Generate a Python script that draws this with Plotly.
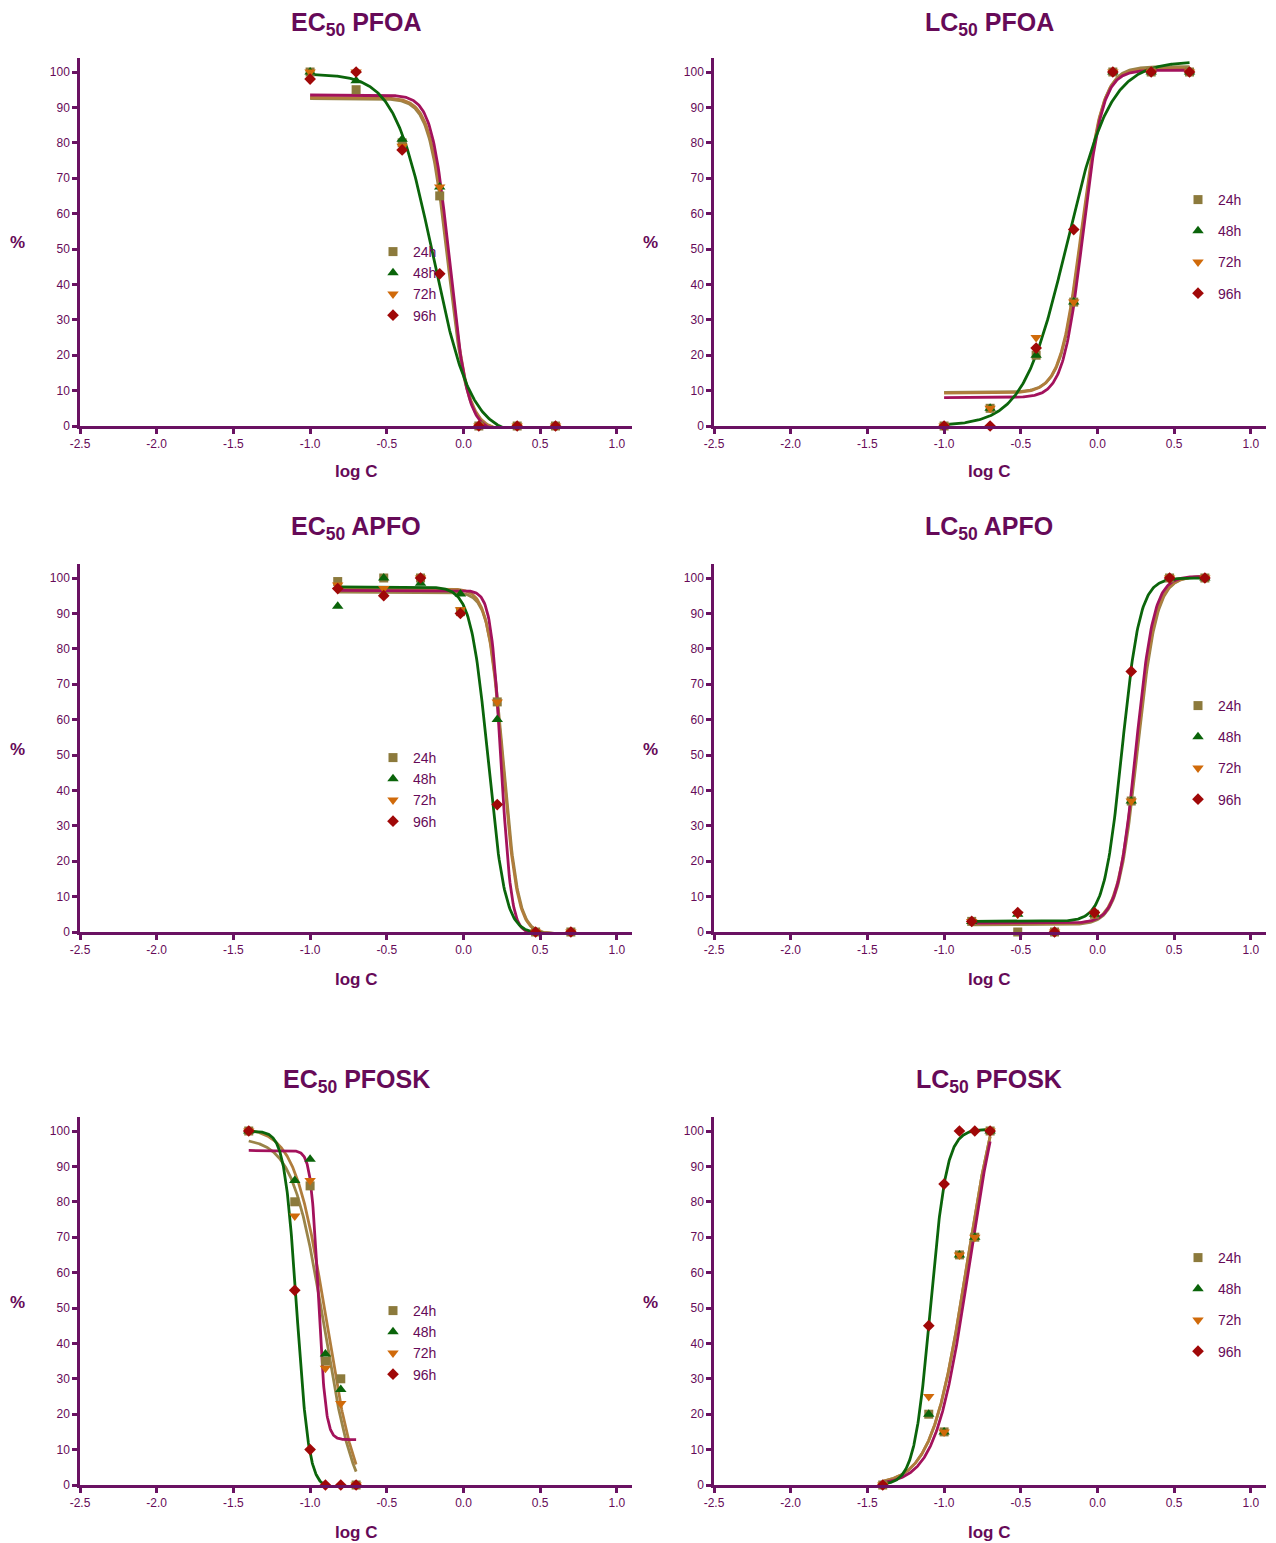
import numpy as np
import plotly.graph_objects as go

# ---------------- data ----------------
SERIES = ["24h", "48h", "72h", "96h"]
TITLES = ["EC<sub>50</sub> PFOA", "LC<sub>50</sub> PFOA",
          "EC<sub>50</sub> APFO", "LC<sub>50</sub> APFO",
          "EC<sub>50</sub> PFOSK", "LC<sub>50</sub> PFOSK"]
X_TICKS = [-2.5, -2.0, -1.5, -1.0, -0.5, 0.0, 0.5, 1.0]
X_TICK_TEXT = ["-2.5", "-2.0", "-1.5", "-1.0", "-0.5", "0.0", "0.5", "1.0"]
Y_TICKS = [0, 10, 20, 30, 40, 50, 60, 70, 80, 90, 100]

# EC50 PFOA
EC_PFOA_X = [-1.0, -0.7, -0.4, -0.155, 0.1, 0.35, 0.6]
EC_PFOA_24 = [100, 95, 80, 65, 0, 0, 0]
EC_PFOA_48 = [100, 97.5, 81, 67.5, 0, 0, 0]
EC_PFOA_72 = [100, 100, 79, 67.5, 0, 0, 0]
EC_PFOA_96 = [98, 100, 78, 43, 0, 0, 0]
EC_PFOA_TOP = [92.5, 99.5, 92.8, 93.5]
EC_PFOA_BOTTOM = [-1.2, -3.0, -1.2, -1.5]
EC_PFOA_LOGEC50 = [-0.10, -0.20, -0.095, -0.09]
EC_PFOA_HILL = [-7.0, -3.5, -7.0, -7.5]

# LC50 PFOA
LC_PFOA_X = [-1.0, -0.7, -0.4, -0.155, 0.1, 0.35, 0.6]
LC_PFOA_24 = [0, 5, 20, 35, 100, 100, 100]
LC_PFOA_48 = [0, 5, 20, 35, 100, 100, 100]
LC_PFOA_72 = [0, 5, 25, 35, 100, 100, 100]
LC_PFOA_96 = [0, 0, 22, 55.5, 100, 100, 100]
LC_PFOA_TOP = [101.5, 103.0, 101.0, 100.5]
LC_PFOA_BOTTOM = [9.5, 0.0, 9.3, 8.0]
LC_PFOA_LOGEC50 = [-0.10, -0.20, -0.105, -0.095]
LC_PFOA_HILL = [6.4, 3.08, 6.4, 6.8]

# EC50 APFO
EC_APFO_X = [-0.82, -0.52, -0.28, -0.02, 0.22, 0.47, 0.70]
EC_APFO_24 = [99, 100, 100, 90.5, 65, 0, 0]
EC_APFO_48 = [92, 100, 98.5, 95.5, 60, 0, 0]
EC_APFO_72 = [98, 97, 100, 91, 65, 0, 0]
EC_APFO_96 = [97, 95, 100, 90, 36, 0, 0]
EC_APFO_TOP = [96.0, 97.5, 97.0, 96.5]
EC_APFO_BOTTOM = [-0.5, -0.5, -0.5, -0.5]
EC_APFO_LOGEC50 = [0.26, 0.16, 0.255, 0.245]
EC_APFO_HILL = [-9.0, -7.8, -9.0, -13.0]

# LC50 APFO
LC_APFO_X = [-0.82, -0.52, -0.28, -0.02, 0.22, 0.47, 0.70]
LC_APFO_24 = [3, 0, 0, 5, 37, 100, 100]
LC_APFO_48 = [3, 5, 0, 5, 37, 100, 100]
LC_APFO_72 = [3, 5, 0, 5, 37, 100, 100]
LC_APFO_96 = [3, 5.5, 0, 5.5, 73.6, 100, 100]
LC_APFO_TOP = [100.5, 100.0, 100.5, 100.5]
LC_APFO_BOTTOM = [2.0, 3.0, 2.3, 2.5]
LC_APFO_LOGEC50 = [0.26, 0.16, 0.255, 0.25]
LC_APFO_HILL = [7.0, 7.5, 7.0, 7.5]

# EC50 PFOSK
EC_PFOSK_X = [-1.4, -1.1, -1.0, -0.9, -0.8, -0.7]
EC_PFOSK_24 = [100, 80, 84.5, 35, 30, 0]
EC_PFOSK_48 = [100, 86, 92, 37, 27, 0]
EC_PFOSK_72 = [100, 76, 86, 33, 23, 0]
EC_PFOSK_96 = [100, 55, 10, 0, 0, 0]
EC_PFOSK_TOP = [98.0, 100.0, 101.0, 94.5]
EC_PFOSK_BOTTOM = [-8.0, -1.0, -8.0, 12.8]
EC_PFOSK_LOGEC50 = [-0.91, -1.087, -0.895, -0.947]
EC_PFOSK_HILL = [-4.3, -11.0, -4.3, -18.0]

# LC50 PFOSK
LC_PFOSK_X = [-1.4, -1.1, -1.0, -0.9, -0.8, -0.7]
LC_PFOSK_24 = [0, 20, 15, 65, 70, 100]
LC_PFOSK_48 = [0, 20, 15, 65, 70, 100]
LC_PFOSK_72 = [0, 25, 15, 65, 70, 100]
LC_PFOSK_96 = [0, 45, 85, 100, 100, 100]
LC_PFOSK_TOP = [125.0, 100.5, 125.0, 125.0]
LC_PFOSK_BOTTOM = [0.0, 0.0, 0.0, 0.0]
LC_PFOSK_LOGEC50 = [-0.85, -1.089, -0.85, -0.835]
LC_PFOSK_HILL = [3.8, 8.3, 3.8, 4.0]

PANELS = [
    (EC_PFOA_X, [EC_PFOA_24, EC_PFOA_48, EC_PFOA_72, EC_PFOA_96],
     EC_PFOA_TOP, EC_PFOA_BOTTOM, EC_PFOA_LOGEC50, EC_PFOA_HILL),
    (LC_PFOA_X, [LC_PFOA_24, LC_PFOA_48, LC_PFOA_72, LC_PFOA_96],
     LC_PFOA_TOP, LC_PFOA_BOTTOM, LC_PFOA_LOGEC50, LC_PFOA_HILL),
    (EC_APFO_X, [EC_APFO_24, EC_APFO_48, EC_APFO_72, EC_APFO_96],
     EC_APFO_TOP, EC_APFO_BOTTOM, EC_APFO_LOGEC50, EC_APFO_HILL),
    (LC_APFO_X, [LC_APFO_24, LC_APFO_48, LC_APFO_72, LC_APFO_96],
     LC_APFO_TOP, LC_APFO_BOTTOM, LC_APFO_LOGEC50, LC_APFO_HILL),
    (EC_PFOSK_X, [EC_PFOSK_24, EC_PFOSK_48, EC_PFOSK_72, EC_PFOSK_96],
     EC_PFOSK_TOP, EC_PFOSK_BOTTOM, EC_PFOSK_LOGEC50, EC_PFOSK_HILL),
    (LC_PFOSK_X, [LC_PFOSK_24, LC_PFOSK_48, LC_PFOSK_72, LC_PFOSK_96],
     LC_PFOSK_TOP, LC_PFOSK_BOTTOM, LC_PFOSK_LOGEC50, LC_PFOSK_HILL),
]

# ---------------- styles ----------------
# the page body has an 8px margin, so the figure is sized to fit the window
OFF_X = 8
OFF_Y = 8
W, H = 1276 - OFF_X, 1543 - OFF_Y
PURPLE = "#6A1262"
TEXT = "#660A58"
FONT = "Arial, Liberation Sans, sans-serif"
MARKER_COLORS = ["#8C7A3C", "#0A640A", "#D06A0A", "#A00808"]
CURVE_COLORS = ["#9A8449", "#0B650B", "#B07D3C", "#A3125C"]
SYMBOLS = ["square", "triangle-up", "triangle-down", "diamond"]
MARKER_SIZES = [9, 10, 10, 9]
CURVE_ORDER = [0, 2, 3, 1]

COL_X0 = [80, 714]       # window pixel of x=-2.5
PX_PER_X = 153.4
ROW_Y0 = [426, 932, 1485]  # window pixel of y=0
PX_PER_Y = 3.54
X_RANGE = [-2.5, 1.1]
Y_RANGE = [0, 104]

TITLE_Y = [24, 528, 1081]
XLABEL_Y = [472, 979, 1532]
PCT_X = [17, 650]
PCT_Y = [242, 749, 1302]
TITLE_X = [356, 989]
LEG_X = [393, 1198]
LEG_Y = [[251, 757, 1310], [199, 705, 1257]]
LEG_GAP = [0, 10]


def px(x):
    return (x - OFF_X) / W


def py(y):
    return 1 - (y - OFF_Y) / H


def logistic(x, top, bottom, logec, hill):
    return bottom + (top - bottom) / (1 + 10 ** ((logec - x) * hill))


fig = go.Figure()
layout = dict(
    width=W, height=H,
    margin=dict(l=0, r=0, t=0, b=0, autoexpand=False),
    paper_bgcolor="white", plot_bgcolor="white",
    font=dict(family=FONT, color=TEXT),
    annotations=[],
)

for i, (xs, ys_list, tops, bots, logecs, hills) in enumerate(PANELS):
    row, col = divmod(i, 2)
    k = i + 1
    xa = "xaxis" if k == 1 else f"xaxis{k}"
    ya = "yaxis" if k == 1 else f"yaxis{k}"
    xr = "x" if k == 1 else f"x{k}"
    yr = "y" if k == 1 else f"y{k}"
    leg = "legend" if k == 1 else f"legend{k}"

    x0 = COL_X0[col]
    x1 = x0 + (X_RANGE[1] - X_RANGE[0]) * PX_PER_X
    y0 = ROW_Y0[row]
    y1 = y0 - (Y_RANGE[1] - Y_RANGE[0]) * PX_PER_Y

    layout[xa] = dict(
        domain=[px(x0), px(x1)], range=X_RANGE, anchor=yr,
        showline=True, linecolor=PURPLE, linewidth=2.5,
        ticks="outside", ticklen=5, tickwidth=2.5, tickcolor=PURPLE,
        tickvals=X_TICKS, ticktext=X_TICK_TEXT,
        tickfont=dict(size=12, color=TEXT, family=FONT),
        showgrid=False, zeroline=False, fixedrange=True, automargin=False,
    )
    layout[ya] = dict(
        domain=[py(y0), py(y1)], range=Y_RANGE, anchor=xr,
        showline=True, linecolor=PURPLE, linewidth=2.5,
        ticks="outside", ticklen=5, tickwidth=2.5, tickcolor=PURPLE,
        tickvals=Y_TICKS,
        tickfont=dict(size=12, color=TEXT, family=FONT),
        showgrid=False, zeroline=False, fixedrange=True, automargin=False,
    )

    # fitted dose-response curves (4-parameter logistic from read parameters)
    xc = np.linspace(min(xs), max(xs), 300)
    for s in CURVE_ORDER:
        yc = logistic(xc, tops[s], bots[s], logecs[s], hills[s])
        fig.add_trace(go.Scatter(
            x=xc, y=yc, mode="lines", xaxis=xr, yaxis=yr,
            line=dict(color=CURVE_COLORS[s], width=2.8),
            showlegend=False, hoverinfo="skip",
        ))
    # data points
    for s, ys in enumerate(ys_list):
        fig.add_trace(go.Scatter(
            x=xs, y=ys, mode="markers", xaxis=xr, yaxis=yr,
            name=SERIES[s], legend=leg, legendgroup=f"{k}_{s}",
            marker=dict(symbol=SYMBOLS[s], color=MARKER_COLORS[s],
                        size=MARKER_SIZES[s], line=dict(width=0)),
            cliponaxis=False,
        ))

    layout[leg] = dict(
        x=px(LEG_X[col] - 20), y=py(LEG_Y[col][row] - 15),
        xanchor="left", yanchor="top",
        bgcolor="rgba(0,0,0,0)", borderwidth=0,
        font=dict(size=14, color=TEXT, family=FONT),
        traceorder="grouped", tracegroupgap=LEG_GAP[col],
        itemclick=False, itemdoubleclick=False,
    )

    layout["annotations"].append(dict(
        text=f"<b>{TITLES[i]}</b>", x=px(TITLE_X[col]), y=py(TITLE_Y[row]),
        xref="paper", yref="paper", xanchor="center", yanchor="middle",
        showarrow=False, font=dict(size=25, color=TEXT, family=FONT),
    ))
    layout["annotations"].append(dict(
        text="<b>log C</b>", x=px(TITLE_X[col]), y=py(XLABEL_Y[row]),
        xref="paper", yref="paper", xanchor="center", yanchor="middle",
        showarrow=False, font=dict(size=17, color=TEXT, family=FONT),
    ))
    layout["annotations"].append(dict(
        text="<b>%</b>", x=px(PCT_X[col]), y=py(PCT_Y[row]),
        xref="paper", yref="paper", xanchor="center", yanchor="middle",
        showarrow=False, font=dict(size=17, color=TEXT, family=FONT),
    ))

fig.update_layout(**layout)
fig.write_html("out.html")
